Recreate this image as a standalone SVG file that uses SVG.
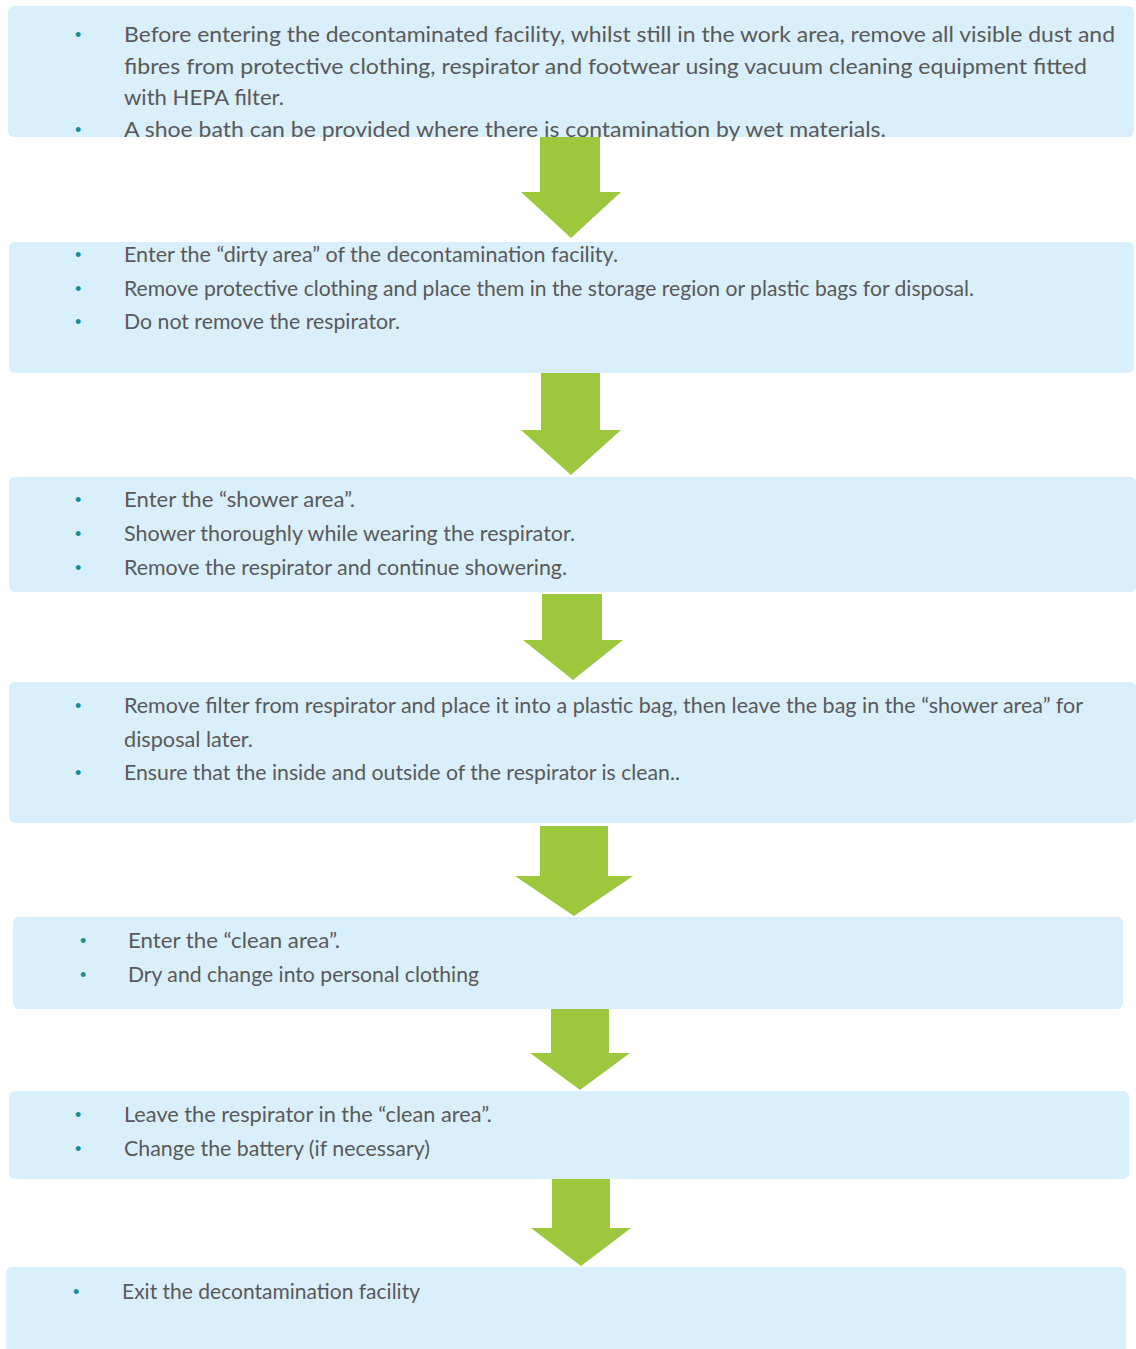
<svg xmlns="http://www.w3.org/2000/svg" width="1136" height="1349" viewBox="0 0 1136 1349">
<style>
.box{fill:#D9EFFB;}
.arr{fill:#9DC83E;}
.t{font-family:Lato,"Open Sans","Liberation Sans",sans-serif;font-size:20.5px;fill:#595959;}
.b{font-family:"Liberation Sans",Arial,sans-serif;font-size:18px;fill:#1A8C98;}
</style>
<rect width="1136" height="1349" fill="#FFFFFF"/>
<g id="connectors">
<polygon class="arr" points="540,137 600,137 600,192 621,192 571,238 521,192 540,192"/>
<polygon class="arr" points="541,373 600,373 600,430 621,430 571,475 521,430 541,430"/>
<polygon class="arr" points="542,594 602,594 602,640 623,640 573,680 523,640 542,640"/>
<polygon class="arr" points="540,826 608,826 608,876 633,876 574,916 515,876 540,876"/>
<polygon class="arr" points="551,1007 609,1007 609,1053 630,1053 580,1090 530,1053 551,1053"/>
<polygon class="arr" points="552,1179 610,1179 610,1228 631,1228 581,1266 531,1228 552,1228"/>
</g>
<g id="node1">
<rect class="box" x="8" y="6" width="1126" height="131" rx="6"/>
<text class="b" x="75" y="41">•</text>
<text class="t" x="124" y="42" textLength="991" lengthAdjust="spacingAndGlyphs">Before entering the decontaminated facility, whilst still in the work area, remove all visible dust and</text>
<text class="t" x="124" y="74" textLength="963" lengthAdjust="spacingAndGlyphs">fibres from protective clothing, respirator and footwear using vacuum cleaning equipment fitted</text>
<text class="t" x="124" y="105" textLength="160" lengthAdjust="spacingAndGlyphs">with HEPA filter.</text>
<text class="b" x="75" y="136">•</text>
<text class="t" x="124" y="137" textLength="762" lengthAdjust="spacingAndGlyphs">A shoe bath can be provided where there is contamination by wet materials.</text>
</g>
<g id="node2">
<rect class="box" x="9" y="242" width="1125" height="131" rx="6"/>
<text class="b" x="75" y="261">•</text>
<text class="t" x="124" y="262" textLength="494" lengthAdjust="spacingAndGlyphs">Enter the “dirty area” of the decontamination facility.</text>
<text class="b" x="75" y="295">•</text>
<text class="t" x="124" y="296" textLength="850" lengthAdjust="spacingAndGlyphs">Remove protective clothing and place them in the storage region or plastic bags for disposal.</text>
<text class="b" x="75" y="328">•</text>
<text class="t" x="124" y="329" textLength="276" lengthAdjust="spacingAndGlyphs">Do not remove the respirator.</text>
</g>
<g id="node3">
<rect class="box" x="9" y="477" width="1127" height="115" rx="6"/>
<text class="b" x="75" y="506">•</text>
<text class="t" x="124" y="507" textLength="231" lengthAdjust="spacingAndGlyphs">Enter the “shower area”.</text>
<text class="b" x="75" y="540">•</text>
<text class="t" x="124" y="541" textLength="451" lengthAdjust="spacingAndGlyphs">Shower thoroughly while wearing the respirator.</text>
<text class="b" x="75" y="574">•</text>
<text class="t" x="124" y="575" textLength="443" lengthAdjust="spacingAndGlyphs">Remove the respirator and continue showering.</text>
</g>
<g id="node4">
<rect class="box" x="9" y="682" width="1127" height="141" rx="6"/>
<text class="b" x="75" y="712">•</text>
<text class="t" x="124" y="713" textLength="959" lengthAdjust="spacingAndGlyphs">Remove filter from respirator and place it into a plastic bag, then leave the bag in the “shower area” for</text>
<text class="t" x="124" y="747" textLength="129" lengthAdjust="spacingAndGlyphs">disposal later.</text>
<text class="b" x="75" y="779">•</text>
<text class="t" x="124" y="780" textLength="556" lengthAdjust="spacingAndGlyphs">Ensure that the inside and outside of the respirator is clean..</text>
</g>
<g id="node5">
<rect class="box" x="13" y="917" width="1110" height="92" rx="6"/>
<text class="b" x="80" y="947">•</text>
<text class="t" x="128" y="948" textLength="212" lengthAdjust="spacingAndGlyphs">Enter the “clean area”.</text>
<text class="b" x="80" y="981">•</text>
<text class="t" x="128" y="982" textLength="351" lengthAdjust="spacingAndGlyphs">Dry and change into personal clothing</text>
</g>
<g id="node6">
<rect class="box" x="9" y="1091" width="1120" height="88" rx="6"/>
<text class="b" x="75" y="1121">•</text>
<text class="t" x="124" y="1122" textLength="368" lengthAdjust="spacingAndGlyphs">Leave the respirator in the “clean area”.</text>
<text class="b" x="75" y="1155">•</text>
<text class="t" x="124" y="1156" textLength="306" lengthAdjust="spacingAndGlyphs">Change the battery (if necessary)</text>
</g>
<g id="node7">
<rect class="box" x="6" y="1267" width="1120" height="90" rx="6"/>
<text class="b" x="73" y="1298">•</text>
<text class="t" x="122" y="1299" textLength="298" lengthAdjust="spacingAndGlyphs">Exit the decontamination facility</text>
</g>
</svg>
